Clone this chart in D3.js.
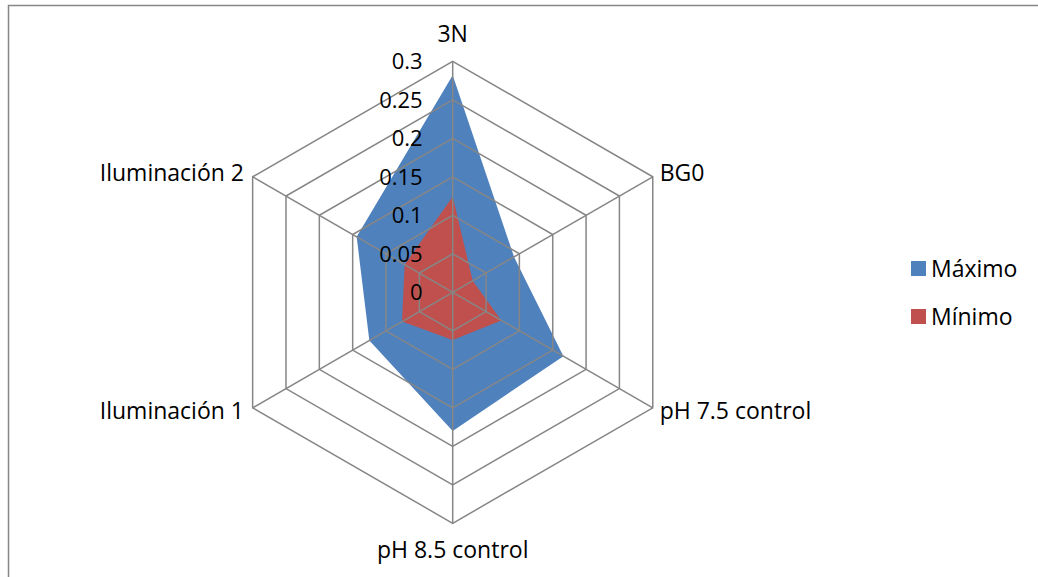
<!DOCTYPE html>
<html>
<head>
<meta charset="utf-8">
<script src="https://cdn.jsdelivr.net/npm/d3@7"></script>
<style>
body{margin:0;background:#fff}
text{font-family:"Open Sans",sans-serif;fill:#000}
</style>
</head>
<body>
<svg width="1038" height="577"></svg>
<script>
var categories=["3N","BG0","pH 7.5 control","pH 8.5 control","Iluminación 1","Iluminación 2"]
var maximo=[0.282,0.092,0.166,0.18,0.125,0.144]
var minimo=[0.124,0.03,0.073,0.062,0.076,0.072]
var ticks=[0,0.05,0.1,0.15,0.2,0.25,0.3]
var seriesNames=["Máximo","Mínimo"]
var seriesColors=["#4F81BD","#C0504D"]

var svg=d3.select('svg')
var cx=452.7, cy=292.3, R=231
var n=categories.length

// chart border
svg.append('rect')
    .attr('x',8.5).attr('y',5.5)
    .attr('width',1100).attr('height',700)
    .attr('fill','none').attr('stroke','#868686').attr('stroke-width',1.5)

var r=d3.scaleLinear().domain([0,0.3]).range([0,R])
var angle=function(i){return i*2*Math.PI/n}

var radial=d3.lineRadial()
    .angle(function(d,i){return angle(i)})
    .radius(function(d){return r(d)})
    .curve(d3.curveLinearClosed)

var g=svg.append('g').attr('transform','translate('+cx+','+cy+')')

// filled areas
g.selectAll('path.series')
    .data([maximo,minimo])
    .enter().append('path')
    .attr('class','series')
    .attr('d',radial)
    .attr('fill',function(d,i){return seriesColors[i]})

// rings
g.selectAll('path.ring')
    .data(ticks.slice(1))
    .enter().append('path')
    .attr('class','ring')
    .attr('d',function(t){return radial(categories.map(function(){return t}))})
    .attr('fill','none').attr('stroke','#868686').attr('stroke-width',1.5)

// spokes
g.selectAll('line.spoke')
    .data(categories)
    .enter().append('line')
    .attr('x1',0).attr('y1',0)
    .attr('x2',function(d,i){return r(0.3)*Math.sin(angle(i))})
    .attr('y2',function(d,i){return -r(0.3)*Math.cos(angle(i))})
    .attr('stroke','#868686').attr('stroke-width',1.5)

// tick labels
g.selectAll('text.tick')
    .data(ticks)
    .enter().append('text')
    .attr('x',-30)
    .attr('y',function(d){return -r(d)})
    .attr('dy','0.35em')
    .attr('text-anchor','end')
    .style('font-size','22px')
    .text(function(d){return d})

// category labels
var yOff=[-27,-4,3,27,3,-4]
g.selectAll('text.cat')
    .data(categories)
    .enter().append('text')
    .attr('x',function(d,i){
        var s=Math.sin(angle(i))
        if(Math.abs(s)<0.01) return 0
        return (r(0.3)+(s>0?8:10))*s
    })
    .attr('y',function(d,i){
        var c=Math.cos(angle(i))
        return -r(0.3)*c+yOff[i]*(i==0||i==3?1:1)
    })
    .attr('dy','0.35em')
    .attr('text-anchor',function(d,i){
        var s=Math.sin(angle(i))
        return Math.abs(s)<0.01?'middle':(s>0?'start':'end')
    })
    .style('font-size','23px')
    .text(function(d){return d})

// legend
var leg=svg.append('g')
leg.selectAll('rect')
    .data(seriesNames)
    .enter().append('rect')
    .attr('x',911).attr('y',function(d,i){return 261+i*48})
    .attr('width',15).attr('height',15)
    .attr('fill',function(d,i){return seriesColors[i]})
leg.selectAll('text')
    .data(seriesNames)
    .enter().append('text')
    .attr('x',931).attr('y',function(d,i){return 269+i*48})
    .attr('dy','0.35em')
    .style('font-size','23px')
    .text(function(d){return d})
</script>
</body>
</html>
